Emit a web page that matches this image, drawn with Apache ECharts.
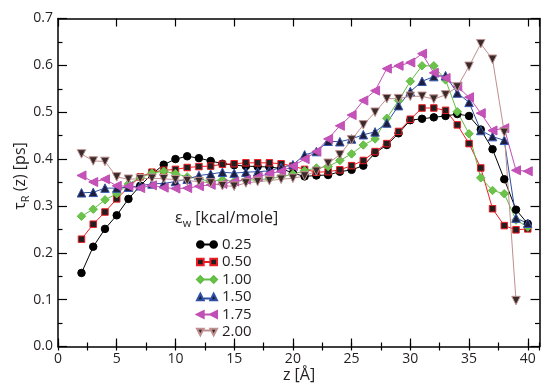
<!DOCTYPE html>
<html><head><meta charset="utf-8">
<script src="https://cdn.jsdelivr.net/npm/echarts@6/dist/echarts.min.js"></script>
<style>html,body{margin:0;padding:0;background:#fff}#c{width:541px;height:386px}</style>
</head><body><div id="c"></div>
<script>
// ---- data (z in Å, tau_R in ps) ----
const zPos = [2,3,4,5,6,7,8,9,10,11,12,13,14,15,16,17,18,19,20,21,22,23,24,25,26,27,28,29,30,31,32,33,34,35,36,37,38,39,40];
const tau025 = [0.157,0.213,0.251,0.280,0.315,0.343,0.368,0.388,0.400,0.406,0.402,0.396,0.390,0.387,0.385,0.384,0.383,0.380,0.370,0.363,0.365,0.366,0.373,0.377,0.386,0.413,0.430,0.455,0.483,0.486,0.489,0.492,0.496,0.492,0.463,0.421,0.357,0.292,0.262];
const tau050 = [0.229,0.261,0.287,0.315,0.340,0.362,0.372,0.376,0.378,0.382,0.384,0.385,0.389,0.390,0.392,0.392,0.392,0.390,0.385,0.378,0.372,0.373,0.377,0.386,0.397,0.416,0.433,0.459,0.485,0.509,0.509,0.504,0.473,0.433,0.381,0.294,0.258,0.249,0.251];
const tau100 = [0.278,0.293,0.313,0.326,0.347,0.360,0.370,0.374,0.369,0.362,0.358,0.352,0.356,0.352,0.355,0.356,0.358,0.362,0.368,0.375,0.381,0.384,0.397,0.411,0.430,0.443,0.487,0.525,0.566,0.599,0.599,0.569,0.501,0.454,0.360,0.333,0.326,0.270,0.255];
const tau150 = [0.328,0.329,0.338,0.338,0.340,0.343,0.347,0.348,0.352,0.357,0.365,0.368,0.372,0.370,0.372,0.373,0.375,0.382,0.388,0.409,0.416,0.438,0.437,0.443,0.452,0.458,0.477,0.514,0.544,0.566,0.576,0.578,0.541,0.521,0.461,0.448,0.440,0.274,0.263];
const tau175 = [0.365,0.351,0.357,0.343,0.342,0.338,0.344,0.339,0.337,0.338,0.342,0.345,0.347,0.352,0.356,0.362,0.369,0.374,0.385,0.400,0.416,0.443,0.471,0.494,0.525,0.546,0.593,0.599,0.606,0.625,0.584,0.573,0.555,0.532,0.498,0.461,0.466,0.376,0.374];
const tau200 = [0.411,0.396,0.395,0.362,0.357,0.358,0.359,0.358,0.356,0.354,0.352,0.349,0.343,0.342,0.349,0.352,0.354,0.357,0.359,0.364,0.374,0.391,0.409,0.441,0.473,0.500,0.529,0.529,0.534,0.534,0.528,0.537,0.554,0.598,0.646,0.613,0.457,0.098];
const legendNames = ['0.25','0.50','1.00','1.50','1.75','2.00'];
const seriesValues = [tau025, tau050, tau100, tau150, tau175, tau200];

// ---- styles ----
const styles = [
  {line:'#000000', fill:'#000000', border:'#000000', symbol:'circle', size:7.5, rot:0,
   icon:'path://M0,7 A7,7 0 1,0 14,7 A7,7 0 1,0 0,7 Z M28,7 A7,7 0 1,0 42,7 A7,7 0 1,0 28,7 Z M14,7 L28,7'},
  {line:'#ee1c24', fill:'#231f20', border:'#ee1c24', symbol:'rect', size:6.5, rot:0,
   icon:'path://M0,0 L14,0 L14,14 L0,14 Z M28,0 L42,0 L42,14 L28,14 Z M14,7 L28,7'},
  {line:'#62bd45', fill:'#6cc24a', border:'#62bd45', symbol:'diamond', size:8.5, rot:0,
   icon:'path://M7,0 L14,7 L7,14 L0,7 Z M35,0 L42,7 L35,14 L28,7 Z M14,7 L28,7'},
  {line:'#2e4fa3', fill:'#1e1e3c', border:'#3556ad', symbol:'triangle', size:8.5, rot:0,
   icon:'path://M7,0 L14,14 L0,14 Z M35,0 L42,14 L28,14 Z M14,10 L28,10'},
  {line:'#c04eb4', fill:'#c452b8', border:'#c04eb4', symbol:'triangle', size:9, rot:90,
   icon:'path://M0,7 L14,0 L14,14 Z M28,7 L42,0 L42,14 Z M14,7 L28,7'},
  {line:'#bf8f8f', fill:'#3a2a2a', border:'#c09292', symbol:'triangle', size:8.5, rot:180,
   icon:'path://M0,0 L14,0 L7,14 Z M28,0 L42,0 L35,14 Z M14,4 L28,4'}
];

const FONT = '"Open Sans", "DejaVu Sans", sans-serif';
const TXT = '#231f20';

const series = seriesValues.map((vals, i) => ({
  name: legendNames[i],
  type: 'line',
  xAxisIndex: 0, yAxisIndex: 0,
  data: vals.map((v, k) => [zPos[k], v]),
  symbol: styles[i].symbol,
  symbolSize: styles[i].size,
  symbolRotate: styles[i].rot,
  showAllSymbol: true,
  lineStyle: {color: styles[i].line, width: 1},
  itemStyle: {color: styles[i].fill, borderColor: styles[i].border, borderWidth: 1},
  emphasis: {disabled: true},
  animation: false
}));

const baseX = {
  type: 'value', min: 0, max: 41, splitLine: {show: false},
  axisLine: {show: false}, axisLabel: {show: false}
};
const xAxes = [
  Object.assign({}, baseX, {position: 'bottom', interval: 5,
    axisLine: {show: true, onZero: false, lineStyle: {color: '#000', width: 1.5}},
    axisTick: {inside: true, length: 8, lineStyle: {color: '#000', width: 1.2}},
    axisLabel: {show: true, showMaxLabel: false, margin: 6, fontSize: 14, color: TXT, fontFamily: FONT,
      formatter: v => (v % 5 === 0 ? String(v) : '')}}),
  Object.assign({}, baseX, {position: 'bottom', interval: 2.5,
    axisTick: {inside: true, length: 4, lineStyle: {color: '#000', width: 1.2}}}),
  Object.assign({}, baseX, {position: 'top', interval: 5,
    axisLine: {show: true, onZero: false, lineStyle: {color: '#000', width: 1.5}},
    axisTick: {inside: true, length: 8, lineStyle: {color: '#000', width: 1.2}}}),
  Object.assign({}, baseX, {position: 'top', interval: 2.5,
    axisTick: {inside: true, length: 4, lineStyle: {color: '#000', width: 1.2}}})
];
const baseY = {
  type: 'value', min: 0, max: 0.7, interval: 0.1, splitLine: {show: false},
  axisLine: {show: true, onZero: false, lineStyle: {color: '#000', width: 1.5}},
  axisTick: {inside: true, length: 9, lineStyle: {color: '#000', width: 1.2}},
  minorTick: {show: true, splitNumber: 2, length: 4.5, lineStyle: {color: '#000', width: 1.2}},
  minorSplitLine: {show: false}
};
const yAxes = [
  Object.assign({}, baseY, {position: 'left',
    axisLabel: {show: true, margin: 5, fontSize: 14, color: TXT, fontFamily: FONT, formatter: v => v.toFixed(1)}}),
  Object.assign({}, baseY, {position: 'right', axisLabel: {show: false}})
];

const chart = echarts.init(document.getElementById('c'), null, {renderer: 'canvas'});
chart.setOption({
  animation: false,
  backgroundColor: '#ffffff',
  grid: {left: 58, right: 1.5, top: 18.5, bottom: 39.5, containLabel: false},
  xAxis: xAxes,
  yAxis: yAxes,
  legend: {
    orient: 'vertical', left: 191, top: 231, itemWidth: 20, itemHeight: 7, itemGap: 0.5,
    selectedMode: false,
    textStyle: {fontSize: 15, color: TXT, fontFamily: FONT, lineHeight: 17},
    data: legendNames.map((n, i) => ({
      name: n, icon: styles[i].icon,
      itemStyle: {color: styles[i].fill, borderColor: styles[i].line, borderWidth: 2}
    }))
  },
  graphic: [
    {type: 'text', x: 20, y: 176, rotation: Math.PI / 2,
     style: {text: '{a|τ}{b|R}{a| (z) [ps]}', align: 'center', verticalAlign: 'middle',
       rich: {a: {fontSize: 16, fontFamily: FONT, fill: TXT, lineHeight: 22},
              b: {fontSize: 11, fontFamily: FONT, fill: TXT, verticalAlign: 'bottom'}}}},
    {type: 'text', x: 299, y: 375,
     style: {text: 'z [Å]', align: 'center', verticalAlign: 'middle', fontSize: 16, fontFamily: FONT, fill: TXT}},
    {type: 'text', x: 175, y: 218,
     style: {text: '{a|ε}{b|w}{a| [kcal/mole]}', align: 'left', verticalAlign: 'middle',
       rich: {a: {fontSize: 16, fontFamily: FONT, fill: TXT, lineHeight: 22},
              b: {fontSize: 11, fontFamily: FONT, fill: TXT, verticalAlign: 'bottom'}}}}
  ],
  series: series
});
</script></body></html>
